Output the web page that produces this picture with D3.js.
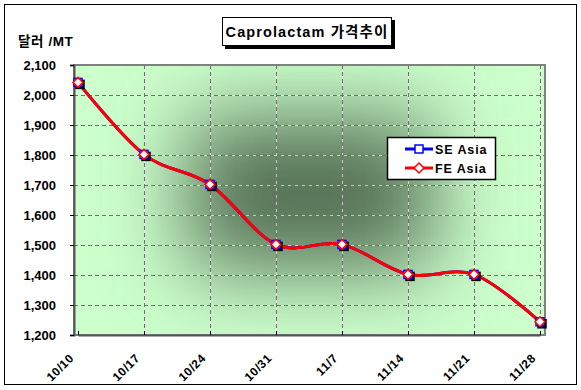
<!DOCTYPE html>
<html>
<head>
<meta charset="utf-8">
<script src="https://cdn.jsdelivr.net/npm/d3@7"></script>
<style>
  body { margin:0; background:#fff; }
  svg text { font-family:"Liberation Sans", Arial, "Noto Sans CJK KR", sans-serif; font-weight:bold; }
</style>
</head>
<body>
<div id="chart"></div>
<script>
// data
var categories = ['10/10','10/17','10/24','10/31','11/7','11/14','11/21','11/28']
var seAsia = [2042, 1802, 1702, 1502, 1502, 1402, 1402, 1244]
var feAsia = [2042, 1802, 1702, 1502, 1502, 1402, 1402, 1244]
var yTicks = [1200,1300,1400,1500,1600,1700,1800,1900,2000,2100]
var series = [
    { name:'SE Asia', values:seAsia, color:'#0000ff', symbol:'square' },
    { name:'FE Asia', values:feAsia, color:'#ff0000', symbol:'diamond' }
]

var W = 581, H = 390
var plot = { left:74, right:545, top:65, bottom:335 }

var svg = d3.select('#chart').append('svg')
    .attr('width', W).attr('height', H)

// outer frame
svg.append('rect')
    .attr('x', 4.5).attr('y', 4.5)
    .attr('width', 572).attr('height', 380)
    .attr('fill', '#fff').attr('stroke', '#000').attr('stroke-width', 1)

var defs = svg.append('defs')
defs.append('clipPath').attr('id', 'pclip')
  .append('rect')
    .attr('x', plot.left).attr('y', plot.top)
    .attr('width', plot.right - plot.left).attr('height', plot.bottom - plot.top)
defs.append('filter').attr('id', 'blur')
    .attr('x', '-100%').attr('y', '-100%').attr('width', '300%').attr('height', '300%')
  .append('feGaussianBlur').attr('stdDeviation', 42)

var x = d3.scalePoint()
    .domain(categories)
    .range([78, 540])

var y = d3.scaleLinear()
    .domain([1200, 2100])
    .range([plot.bottom, plot.top])

// plot background: light green with a dark soft centre
var bg = svg.append('g').attr('clip-path', 'url(#pclip)')
bg.append('rect')
    .attr('x', plot.left).attr('y', plot.top)
    .attr('width', plot.right - plot.left).attr('height', plot.bottom - plot.top)
    .attr('fill', '#ccffcc')
bg.append('rect')
    .attr('x', 188).attr('y', 118)
    .attr('width', 244).attr('height', 152)
    .attr('fill', '#547054')
    .attr('filter', 'url(#blur)')

// gridlines (gray dashes on white gaps)
var grid = svg.append('g')
var hv = yTicks.slice(1, -1), vv = categories.slice(1)
;[['#fff', null], ['#707070', '4,3']].forEach(st=> {
    grid.append('g').selectAll('line')
        .data(hv)
      .enter().append('line')
        .attr('x1', plot.left).attr('x2', plot.right)
        .attr('y1', d=> Math.round(y(d)) + 0.5).attr('y2', d=> Math.round(y(d)) + 0.5)
        .attr('stroke', st[0]).attr('stroke-dasharray', st[1])
        .attr('stroke-opacity', st[1] ? 1 : 0.6)
    grid.append('g').selectAll('line')
        .data(vv)
      .enter().append('line')
        .attr('x1', d=> Math.round(x(d)) + 0.5).attr('x2', d=> Math.round(x(d)) + 0.5)
        .attr('y1', plot.top).attr('y2', plot.bottom)
        .attr('stroke', st[0]).attr('stroke-dasharray', st[1])
        .attr('stroke-opacity', st[1] ? 1 : 0.6)
})

// plot border
svg.append('rect')
    .attr('x', plot.left).attr('y', plot.top)
    .attr('width', plot.right - plot.left).attr('height', plot.bottom - plot.top)
    .attr('fill', 'none').attr('stroke', '#808080').attr('stroke-width', 2)

// axes
var yAxis = svg.append('g')
    .attr('transform', 'translate(' + plot.left + ',0)')
    .call(d3.axisLeft(y).tickValues(yTicks).tickSize(4).tickFormat(d3.format(',')))
yAxis.select('.domain').attr('stroke', '#555').attr('stroke-width', 2)
yAxis.selectAll('.tick line').attr('stroke', '#000')
yAxis.selectAll('text')
    .attr('x', -18).attr('font-size', 13).attr('fill', '#000')

var xAxis = svg.append('g')
    .attr('transform', 'translate(0,' + plot.bottom + ')')
    .call(d3.axisBottom(x).tickSize(-4).tickSizeOuter(0))
xAxis.select('.domain').attr('stroke', '#555').attr('stroke-width', 2)
xAxis.selectAll('.tick line').attr('stroke', '#000')
xAxis.selectAll('text')
    .attr('font-size', 12).attr('fill', '#000')
    .attr('letter-spacing', 0.5)
    .attr('text-anchor', 'end')
    .attr('dy', 0).attr('y', 0)
    .attr('transform', 'translate(-4,24) rotate(-45)')

// lines
var line = d3.line()
    .x((d, i)=> x(categories[i]))
    .y(d=> y(d))
    .curve(d3.curveCatmullRom.alpha(0))

series.forEach(s=> {
    svg.append('path')
        .datum(s.values)
        .attr('fill', 'none')
        .attr('stroke', s.color)
        .attr('stroke-width', 3)
        .attr('d', line)
})

function marker(g, s, cx, cy, shadow) {
    var dx = shadow ? 2 : 0
    if (s.symbol == 'square') {
        g.append('rect')
            .attr('x', cx - 4 + dx).attr('y', cy - 4 + dx)
            .attr('width', 8).attr('height', 8)
            .attr('fill', shadow ? '#000' : '#fff')
            .attr('stroke', shadow ? '#000' : s.color).attr('stroke-width', 1.5)
    } else if (!shadow) {
        g.append('path')
            .attr('d', 'M' + cx + ',' + (cy - 5) + 'L' + (cx + 5) + ',' + cy
                + 'L' + cx + ',' + (cy + 5) + 'L' + (cx - 5) + ',' + cy + 'Z')
            .attr('fill', '#fff')
            .attr('stroke', s.color).attr('stroke-width', 1.5)
    }
}

var mk = svg.append('g')
series.forEach(s=> {
    s.values.forEach((v, i)=> marker(mk, s, x(categories[i]), y(v), true))
})
series.forEach(s=> {
    s.values.forEach((v, i)=> marker(mk, s, x(categories[i]), y(v), false))
})

// legend
var lg = svg.append('g').attr('transform', 'translate(387,137)')
lg.append('rect')
    .attr('x', 0.5).attr('y', 0.5).attr('width', 108).attr('height', 42)
    .attr('fill', '#fff').attr('stroke', '#000').attr('stroke-width', 1.5)
series.forEach((s, i)=> {
    var ly = 12 + i * 19
    lg.append('line')
        .attr('x1', 18).attr('x2', 46).attr('y1', ly).attr('y2', ly)
        .attr('stroke', s.color).attr('stroke-width', 3)
    marker(lg, s, 32, ly, false)
    lg.append('text')
        .attr('x', 48).attr('y', ly + 5)
        .attr('font-size', 12.5)
        .attr('letter-spacing', 0.9)
        .text(s.name)
})

// title box
svg.append('rect')
    .attr('x', 225).attr('y', 20).attr('width', 170).attr('height', 29)
    .attr('fill', '#000')
svg.append('rect')
    .attr('x', 222.5).attr('y', 17.5).attr('width', 169).attr('height', 28)
    .attr('fill', '#fff').attr('stroke', '#000').attr('stroke-width', 1)
svg.append('text')
    .attr('x', 307).attr('y', 37)
    .attr('text-anchor', 'middle')
    .attr('font-size', 14.5)
    .attr('letter-spacing', 1.1)
    .text('Caprolactam 가격추이')

// y axis title
svg.append('text')
    .attr('x', 18).attr('y', 46)
    .attr('font-size', 13.5)
    .attr('letter-spacing', 0.6)
    .text('달러 /MT')
</script>
</body>
</html>
